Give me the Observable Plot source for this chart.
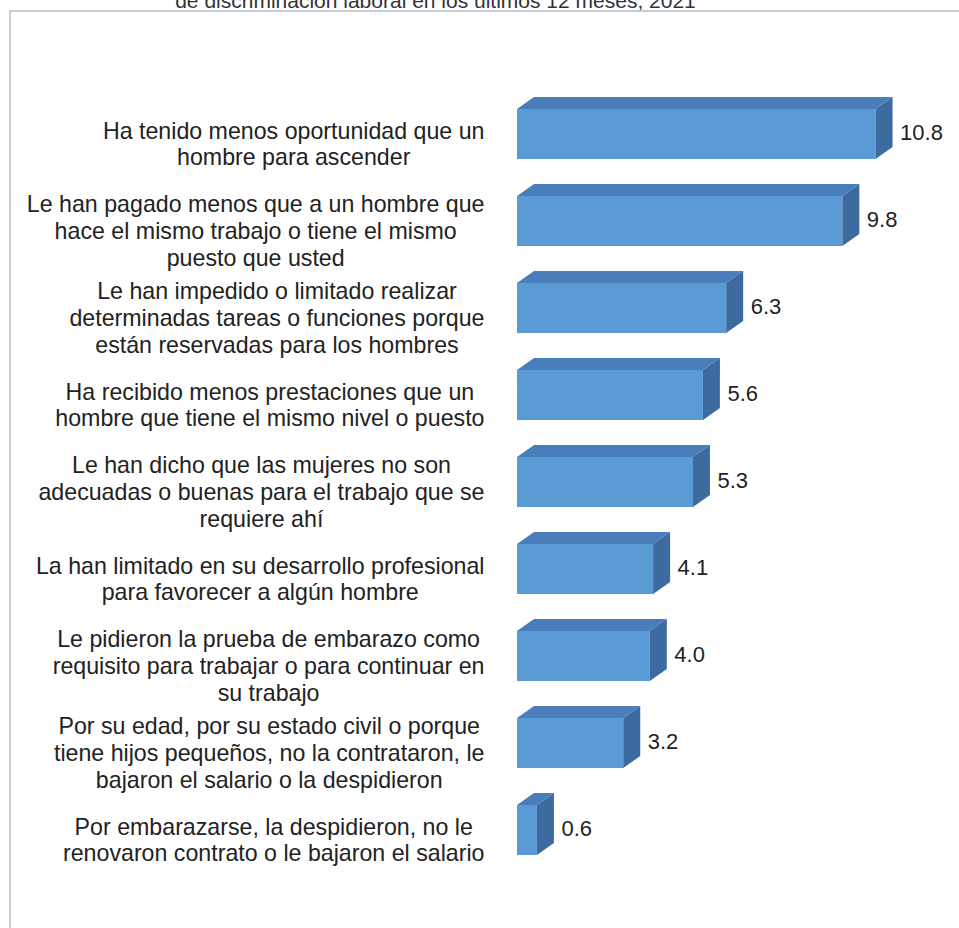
<!DOCTYPE html>
<html><head><meta charset="utf-8">
<script src="https://cdn.jsdelivr.net/npm/d3@7"></script>
<script src="https://cdn.jsdelivr.net/npm/@observablehq/plot@0.6"></script>
<style>
html,body{margin:0;padding:0;background:#fff;}
#wrap{position:relative;width:959px;height:928px;overflow:hidden;}
#chart{position:absolute;left:0;top:0;}
#title{position:absolute;left:0;width:871px;text-align:center;top:-10px;font-family:'Liberation Sans',Arial,sans-serif;font-size:21px;line-height:21px;color:#333;white-space:nowrap;}
#frame{position:absolute;left:9px;top:10px;width:1000px;height:1000px;border:2px solid #c3cedb;box-sizing:border-box;pointer-events:none;}
</style></head><body>
<div id="wrap"><div id="chart"></div><div id="title">de discriminación laboral en los últimos 12 meses, 2021</div><div id="frame"></div></div>
<script>
const categories = [
  "Ha tenido menos oportunidad que un\nhombre para ascender",
  "Le han pagado menos que a un hombre que\nhace el mismo trabajo o tiene el mismo\npuesto que usted",
  "Le han impedido o limitado realizar\ndeterminadas tareas o funciones porque\nestán reservadas para los hombres",
  "Ha recibido menos prestaciones que un\nhombre que tiene el mismo nivel o puesto",
  "Le han dicho que las mujeres no son\nadecuadas o buenas para el trabajo que se\nrequiere ahí",
  "La han limitado en su desarrollo profesional\npara favorecer a algún hombre",
  "Le pidieron la prueba de embarazo como\nrequisito para trabajar o para continuar en\nsu trabajo",
  "Por su edad, por su estado civil o porque\ntiene hijos pequeños, no la contrataron, le\nbajaron el salario o la despidieron",
  "Por embarazarse, la despidieron, no le\nrenovaron contrato o le bajaron el salario"
];
const values = [10.8, 9.8, 6.3, 5.6, 5.3, 4.1, 4.0, 3.2, 0.6];

const data = categories.map((c, i) => ({cat: c, value: values[i]}));
const FONT = "'Liberation Sans', Arial, sans-serif";
const FS = 23.2;
const ctx = document.createElement("canvas").getContext("2d");
ctx.font = `${FS}px ${FONT}`;
const blockWidth = c => Math.max(...c.split("\n").map(l => ctx.measureText(l).width));

const MARGIN_LEFT = 517;
const LABEL_RIGHT = 484;
const DEPTH_X = 17, DEPTH_Y = 12;

function faces(index, scales) {
  const x = scales.x, y = scales.y;
  const bw = y.bandwidth ? y.bandwidth() : 50;
  const g = d3.create("svg:g");
  for (const d of data) {
    const x0 = x(0), x1 = x(d.value), y0 = y(d.cat), y1 = y0 + bw;
    g.append("path").attr("fill", "#4a7ebb")
      .attr("d", `M${x0},${y0}L${x0 + DEPTH_X},${y0 - DEPTH_Y}L${x1 + DEPTH_X},${y0 - DEPTH_Y}L${x1},${y0}Z`);
    g.append("path").attr("fill", "#3d6b9f")
      .attr("d", `M${x1},${y0}L${x1 + DEPTH_X},${y0 - DEPTH_Y}L${x1 + DEPTH_X},${y1 - DEPTH_Y}L${x1},${y1}Z`);
  }
  return g.node();
}

const labelMarks = categories.map(c => Plot.text([c], {
  y: d => d, text: d => d, frameAnchor: "left",
  dx: LABEL_RIGHT - MARGIN_LEFT - blockWidth(c) / 2, dy: 9,
  textAnchor: "middle", lineAnchor: "middle", lineHeight: 1.15,
  fontSize: FS, fill: "#222"
}));

const chart = Plot.plot({
  width: 959, height: 928,
  marginLeft: MARGIN_LEFT, marginRight: 959 - MARGIN_LEFT - 13 * 33.2,
  marginTop: 70.7, marginBottom: 34.3,
  style: {fontFamily: FONT, background: "transparent"},
  x: {domain: [0, 13], axis: null},
  y: {domain: categories, axis: null, paddingInner: 0.427, paddingOuter: 0.427},
  marks: [
    Plot.barX(data, {x: "value", y: "cat", fill: "#5b9bd5"}),
    faces,
    Plot.text(data, {x: "value", y: "cat", text: d => d3.format(".1f")(d.value),
      dx: 24, dy: -2, textAnchor: "start", fontSize: 22, fill: "#222"}),
    ...labelMarks
  ]
});
document.getElementById("chart").appendChild(chart);
</script></body></html>
